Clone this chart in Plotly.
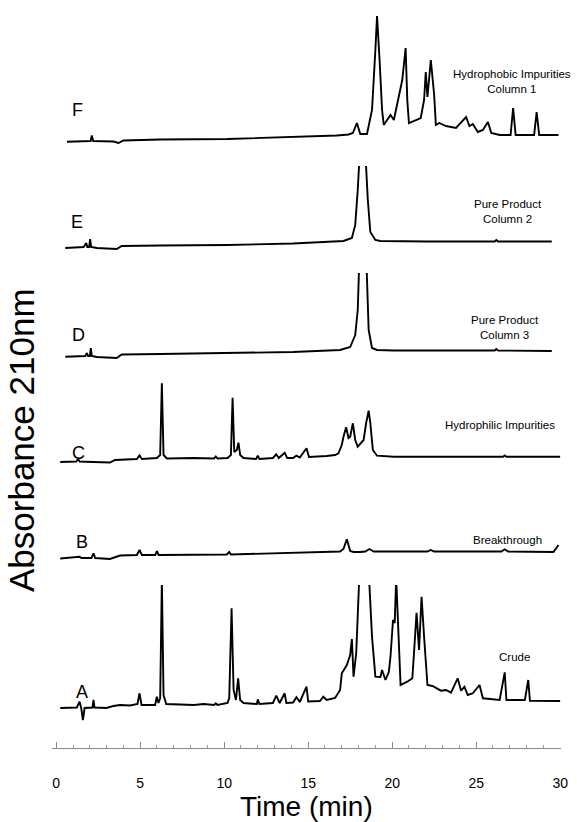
import plotly.graph_objects as go

# ---------------- data (time in min, signal in arbitrary absorbance units above each trace's floor) -------------
t_F = [0.64, 1.83, 2.05, 2.12, 2.2, 3.41, 3.71, 4.0, 6.19, 10.2, 14.1, 16.7, 17.4, 17.66, 17.9, 18.1, 18.5,
       18.8, 19.0, 19.1, 19.25, 19.4, 19.5, 19.9, 20.1, 20.3, 20.5, 20.6, 20.8, 20.9, 21.0, 21.7, 21.9, 22.0,
       22.1, 22.3, 22.5, 22.6, 22.8, 23.2, 23.8, 24.4, 24.6, 24.8, 25.1, 25.4, 25.7, 25.9, 26.4, 27.05, 27.2,
       27.35, 28.45, 28.6, 28.75, 29.9]
s_F = [8.3, 9, 9, 14.5, 9, 8.5, 7, 9.5, 10.5, 11, 13, 14.5, 15.5, 17, 27, 16, 16,
       40, 100, 134, 90, 40, 25, 35, 30, 46, 60, 70, 102, 50, 27, 32, 50, 78,
       53, 90, 55, 25, 27, 24, 22, 33, 24, 26, 18, 20, 28, 17, 15, 15, 42,
       15, 15, 38, 15, 15]

t_E = [0.54, 1.63, 1.79, 1.85, 1.96, 2.02, 2.08, 2.42, 3.6, 3.9, 6.2, 10.2, 14.1, 17.1, 17.6, 17.8, 17.95,
       18.24, 18.55, 18.7, 19.0, 19.3, 22.1, 26.1, 26.2, 26.3, 29.5]
s_E = [7, 8, 12, 8, 8, 16, 8, 7, 6, 9, 9.5, 10, 11.5, 14, 17, 30, 65,
       155, 55, 23, 15, 14, 13.5, 13.5, 15, 13.5, 13.5]

t_D = [0.54, 1.73, 1.83, 1.9, 2.0, 2.06, 2.12, 2.42, 3.6, 3.9, 6.2, 10.2, 14.1, 16.9, 17.5, 17.8, 17.95,
       18.25, 18.6, 18.8, 19.1, 20.1, 26.1, 26.2, 26.3, 29.5]
s_D = [8.3, 9, 12, 9, 9, 17, 9, 8, 7, 10.5, 11, 12, 13, 15, 18, 30, 55,
       215, 35, 17, 15, 14.5, 14.5, 16, 14.5, 14]

t_C = [0.24, 1.2, 1.3, 1.4, 2.2, 2.8, 3.2, 3.5, 4.8, 4.96,
       5.1, 5.99, 6.19, 6.29, 6.39, 6.59, 8.2, 9.4, 9.5, 9.6,
       10.2, 10.4, 10.5, 10.6, 10.75, 10.85, 10.95, 11.15, 11.9, 12.0,
       12.1, 12.9, 13.1, 13.25, 13.6, 13.75, 14.1, 14.3, 14.5, 14.9,
       15.05, 16.1, 16.6, 16.8, 17.0, 17.1, 17.26, 17.4, 17.5, 17.66,
       17.8, 17.95, 18.1, 18.3, 18.45, 18.6, 18.7, 18.85, 19.1, 20.1,
       26.6, 26.7, 26.8, 30.0]
s_C = [8, 8.5, 11, 8.5, 8, 7.5, 7.5, 10, 11, 14.5,
       11, 12, 15, 86.7, 15, 11.5, 12, 11.5, 13.5, 11.5,
       12, 15, 72.3, 18, 20, 27.3, 15, 12, 11, 14.3,
       11, 12, 15.7, 12, 17.3, 12, 12, 14.3, 12.5, 21.7,
       13, 14, 15, 16.7, 25, 33.3, 42.7, 32, 33.3, 46.7,
       30, 23.3, 26, 30, 47, 59.3, 47, 20, 14.3, 13.3,
       13.3, 14.5, 13.3, 13.3]

t_B = [0.24, 1.23, 1.39, 1.5, 2.1, 2.22, 2.32, 3.2, 3.5, 3.8,
       4.8, 4.96, 5.1, 5.9, 5.99, 6.1, 10.15, 10.3, 10.4, 14.1,
       16.9, 17.1, 17.3, 17.5, 17.7, 18.1, 18.4, 18.65, 18.9, 22.1,
       22.3, 22.5, 26.5, 26.7, 26.9, 29.6, 29.9]
s_B = [7.5, 8.5, 9.3, 8, 8, 12.7, 8, 7, 9, 10.5,
       11, 16, 11, 11, 15, 11, 11.5, 14, 11.5, 13,
       14.5, 17, 26.7, 15, 14, 14, 14.5, 17, 14.5, 14.5,
       16, 14.5, 14.5, 16.7, 14.5, 14, 21]

t_A = [0.24, 1.23, 1.39, 1.49, 1.59, 1.69, 2.16, 2.22, 2.28, 2.99,
       3.4, 3.8, 4.4, 4.84, 4.96, 5.08, 5.89, 5.99, 6.09, 6.19,
       6.29, 6.39, 6.55, 8.2, 8.77, 9.4, 9.5, 9.6, 10.2, 10.3,
       10.44, 10.56, 10.7, 10.83, 10.95, 11.15, 11.95, 12.0, 12.1, 12.9,
       13.1, 13.3, 13.6, 13.7, 14.1, 14.3, 14.5, 14.9, 15.0, 15.7,
       15.9, 16.1, 16.6, 16.9, 17.0, 17.2, 17.3, 17.5, 17.6, 17.7,
       17.86, 18.3, 18.8, 19.0, 19.3, 19.4, 19.6, 19.8, 19.9, 20.05,
       20.15, 20.24, 20.4, 20.5, 20.9, 21.2, 21.3, 21.45, 21.6, 21.75,
       21.9, 22.1, 22.4, 22.9, 23.2, 23.5, 23.9, 24.1, 24.3, 24.5,
       24.8, 25.2, 25.4, 26.4, 26.7, 26.8, 27.9, 28.1, 28.2, 30.0]
s_A = [14, 14.5, 20.3, 14, 2, 14, 14.5, 22, 14.5, 14,
       16, 17, 16.5, 18, 28.7, 17, 17, 25.3, 19, 24,
       142, 27, 18, 17, 18, 17, 18.7, 17, 19, 24,
       113.7, 32, 22, 43.7, 22, 19, 18, 22.7, 18, 19,
       26.3, 19, 28.7, 19, 19.5, 24.7, 20, 35.3, 20.5, 21,
       25.3, 22, 24, 32, 48.7, 55.3, 57, 67, 83, 45.3,
       69, 252, 85.3, 45.3, 45, 52, 42, 50, 65.3, 102,
       99, 144, 85.3, 37, 40.3, 43.7, 69, 109.3, 72, 125.3,
       85.3, 37, 36, 31.3, 32, 29.3, 43.7, 31.3, 35.3, 27,
       28.7, 37, 23.7, 22, 49.7, 22, 22, 42, 21.3, 21]

trace_letters = ["F", "E", "D", "C", "B", "A"]
trace_names = ["Hydrophobic Impurities<br>Column 1", "Pure Product<br>Column 2", "Pure Product<br>Column 3",
               "Hydrophilic Impurities", "Breakthrough", "Crude"]
x_ticks = [0, 5, 10, 15, 20, 25, 30]

series = [(t_F, s_F), (t_E, s_E), (t_D, s_D), (t_C, s_C), (t_B, s_B), (t_A, s_A)]

# ---------------- layout geometry (pixels) ----------------
W, H = 577, 822
ML, MR, MT, MB = 52, 16, 8, 74
PW, PH = W - ML - MR, H - MT - MB
AX_Y = H - MB  # x axis line pixel


def px_x(p):
    return (p - ML) / PW


def px_y(p):
    return (AX_Y - p) / PH


# panel [bottom_px, top_px] (the top is the off-scale clip level of the recorder)
panels = [(150, 8), (255, 166), (365, 273), (470, 375), (566, 530), (722, 585)]
letter_pos = [(77, 110), (77, 222), (78, 335), (78, 453), (82, 542), (82, 692)]
name_pos = [(512, 82), (508, 212), (505, 327), (500, 425), (507, 540), (514, 657)]

fig = go.Figure()
layout = dict(
    width=W, height=H,
    margin=dict(l=ML, r=MR, t=MT, b=MB),
    paper_bgcolor="white", plot_bgcolor="white",
    showlegend=False,
    font=dict(family="Liberation Sans, Arial, sans-serif", color="black"),
    xaxis=dict(range=[-0.25, 30.05], domain=[0, 1], anchor="free", position=0,
               showgrid=False, zeroline=False, showline=True, linecolor="#8a8a8a", linewidth=1,
               ticks="inside", ticklen=6, tickwidth=1, tickcolor="#8a8a8a",
               tickvals=x_ticks, ticktext=[str(v) for v in x_ticks],
               tickfont=dict(size=14), ticklabelstandoff=22,
               minor=dict(dtick=1, ticks="inside", ticklen=3, tickcolor="#9a9a9a", tickwidth=1)),
)

annotations = []
for i, ((tt, ss), (bot, top)) in enumerate(zip(series, panels)):
    yname = "yaxis" if i == 0 else f"yaxis{i+1}"
    yref = "y" if i == 0 else f"y{i+1}"
    layout[yname] = dict(domain=[px_y(bot), px_y(top)], range=[0, bot - top],
                         visible=False, showgrid=False, zeroline=False, fixedrange=True)
    fig.add_trace(go.Scatter(x=tt, y=ss, mode="lines", xaxis="x", yaxis=yref,
                             line=dict(color="black", width=1.9), hoverinfo="skip"))
    lx, ly = letter_pos[i]
    annotations.append(dict(x=px_x(lx), y=px_y(ly), xref="paper", yref="paper", text=trace_letters[i],
                            showarrow=False, font=dict(size=18), xanchor="center", yanchor="middle"))
    nx, ny = name_pos[i]
    annotations.append(dict(x=px_x(nx), y=px_y(ny), xref="paper", yref="paper", text=trace_names[i],
                            showarrow=False, font=dict(size=11.5), xanchor="center", yanchor="middle",
                            align="center"))

annotations.append(dict(x=px_x(306), y=px_y(806), xref="paper", yref="paper", text="Time (min)",
                        showarrow=False, font=dict(size=28), xanchor="center", yanchor="middle"))
annotations.append(dict(x=px_x(21), y=px_y(440), xref="paper", yref="paper", text="Absorbance 210nm",
                        showarrow=False, font=dict(size=35), textangle=-90, xanchor="center",
                        yanchor="middle"))
layout["annotations"] = annotations
fig.update_layout(**layout)
fig.write_html("out.html", config={"displayModeBar": False, "staticPlot": True},
               post_script="document.body.style.margin='0px';document.body.style.overflow='hidden';")
